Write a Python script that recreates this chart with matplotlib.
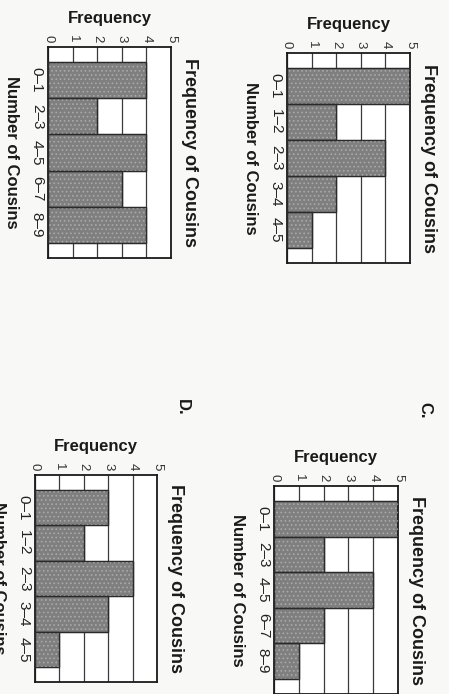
import numpy as np
import matplotlib
matplotlib.use("Agg")
import matplotlib.pyplot as plt

plt.rcParams['font.family'] = ['Liberation Sans', 'DejaVu Sans']
plt.rcParams['hatch.linewidth'] = 0.7

# data (page is rotated 90 deg clockwise)
cats_even = ['0–1', '2–3', '4–5', '6–7', '8–9']
cats_unit = ['0–1', '1–2', '2–3', '3–4', '4–5']
freq_top_left = [4, 2, 4, 3, 4]
freq_top_right = [5, 2, 4, 2, 1]
freq_c = [5, 2, 4, 2, 1]
freq_d = [3, 2, 4, 3, 1]
freq_ticks = [0, 1, 2, 3, 4, 5]

W, H = 449, 694
paper = '#f8f8f6'
bar_gray = '#7f7f7f'


def box(x0, y0, x1, y1):
    # pixel box -> figure fraction rect
    return [x0 / W, 1 - y1 / H, (x1 - x0) / W, (y1 - y0) / H]


def histo(ax, cats, freqs):
    pos = np.arange(len(cats))
    ax.set_facecolor('white')
    ax.barh(pos, freqs, height=1.0, color=bar_gray, edgecolor='#2a2a2a', linewidth=0.9, zorder=2)
    ax.barh(pos, freqs, height=1.0, fill=False, hatch='....', edgecolor='#a9a9a9', linewidth=0, zorder=3)
    ax.barh(pos, freqs, height=1.0, fill=False, edgecolor='#2a2a2a', linewidth=0.9, zorder=4)
    ax.set_xlim(0, 5)
    ax.set_ylim(len(cats) - 0.5 + 0.42, -0.5 - 0.42)
    ax.set_xticks(freq_ticks)
    ax.set_xticklabels([str(t) for t in freq_ticks], rotation=-90, fontsize=9.5, color='#333333')
    ax.xaxis.tick_top()
    ax.xaxis.set_label_position('top')
    ax.set_yticks(pos)
    ax.set_yticklabels(cats, rotation=-90, fontsize=11, color='#222222', va='center')
    ax.tick_params(length=0, pad=3)
    ax.grid(axis='x', color='#3a3a3a', linewidth=0.9)
    ax.set_axisbelow(True)
    for s in ax.spines.values():
        s.set_linewidth(1.3)
        s.set_color('#1a1a1a')
    ax.set_xlabel('Frequency', fontsize=12, fontweight='bold', labelpad=9, color='#1a1a1a')
    ax.set_ylabel('Number of Cousins', fontsize=12, fontweight='bold', rotation=-90,
                  labelpad=13, color='#1a1a1a', va='center')
    ax.text(1.15, 0.5, 'Frequency of Cousins', transform=ax.transAxes, rotation=-90,
            ha='center', va='center', fontsize=13, fontweight='bold', color='#1a1a1a')


fig = plt.figure(figsize=(W / 100, H / 100), dpi=100)
fig.patch.set_facecolor(paper)

ax1 = fig.add_axes(box(48, 47, 171, 258))
histo(ax1, cats_even, freq_top_left)

ax2 = fig.add_axes(box(287, 53, 410, 263))
histo(ax2, cats_unit, freq_top_right)

ax3 = fig.add_axes(box(35, 475, 157, 682))
histo(ax3, cats_unit, freq_d)

ax4 = fig.add_axes(box(274, 486, 398, 694))
histo(ax4, cats_even, freq_c)

fig.text(182 / W, 1 - 407 / H, 'D.', rotation=-90, ha='center', va='center',
         fontsize=12, fontweight='bold', color='#1a1a1a')
fig.text(425 / W, 1 - 410 / H, 'C.', rotation=-90, ha='center', va='center',
         fontsize=12, fontweight='bold', color='#1a1a1a')

fig.savefig('out.png', dpi=100, facecolor=paper)
